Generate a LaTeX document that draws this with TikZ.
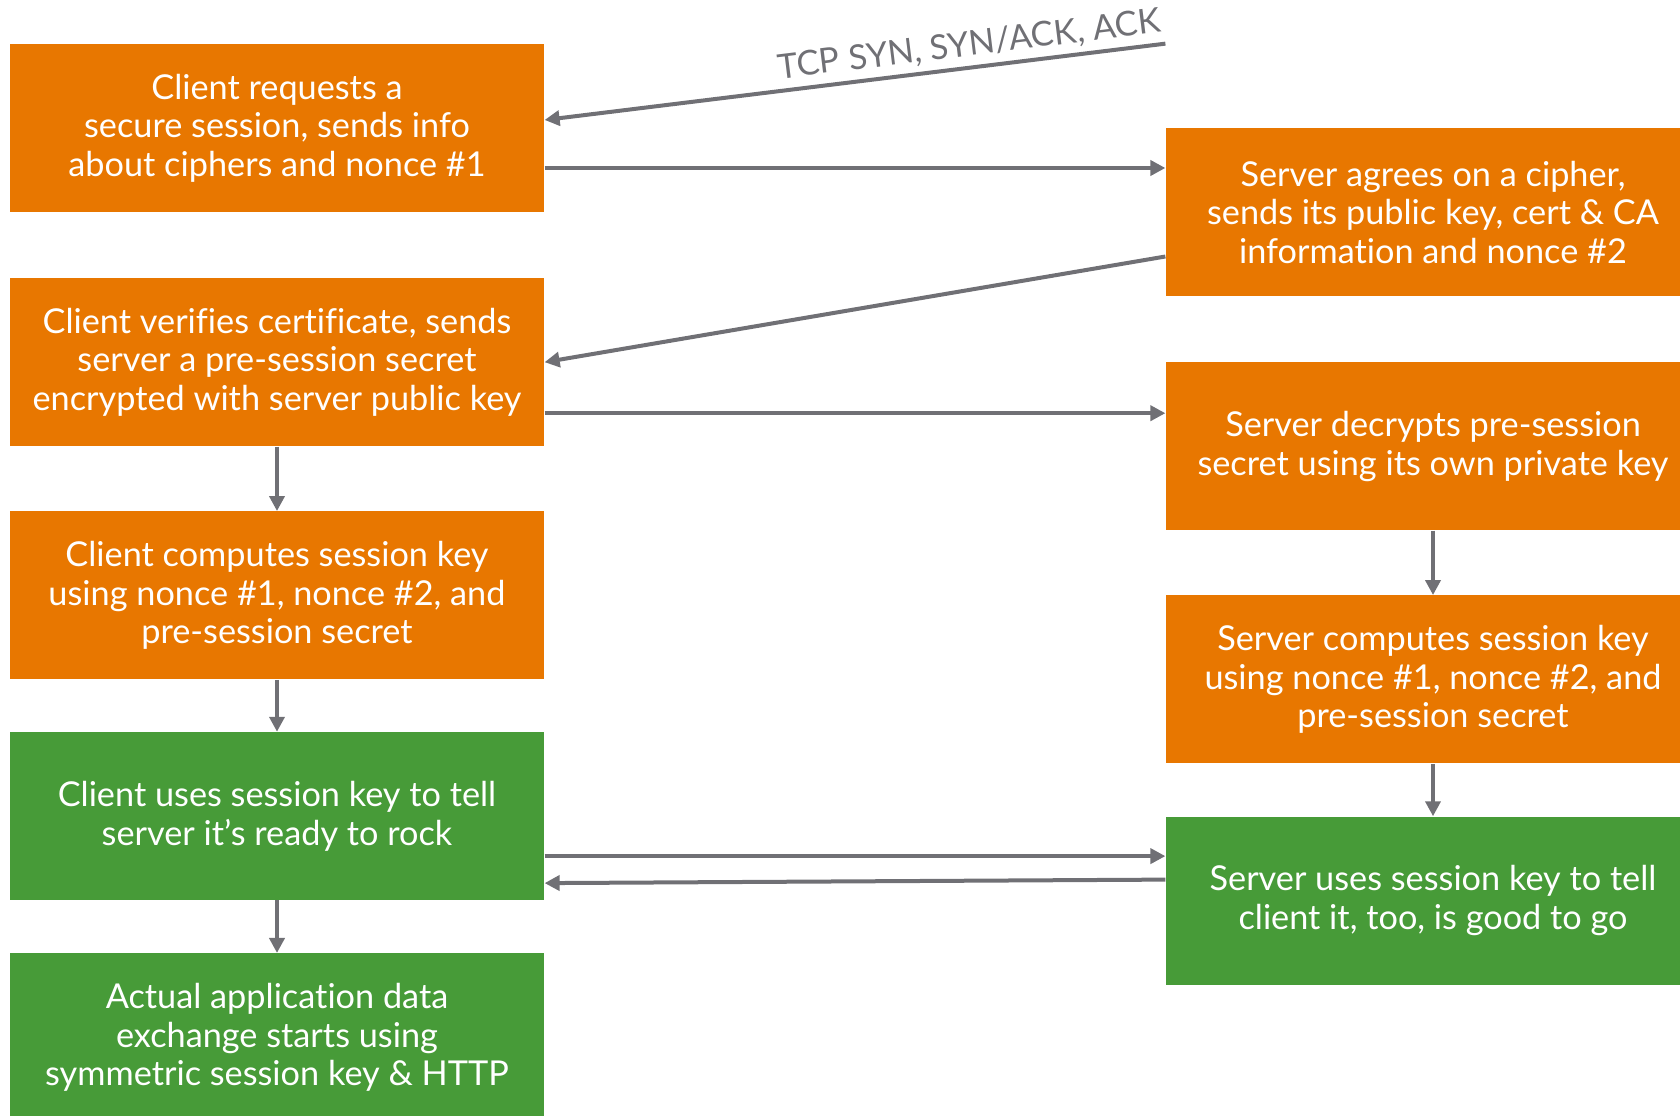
\documentclass[tikz,border=0pt]{standalone}
\usepackage{fontspec}
\setmainfont{Lato}[Ligatures=NoCommon]
\usetikzlibrary{arrows.meta,positioning,calc}
\definecolor{tlsorange}{RGB}{232,119,0}
\definecolor{tlsgreen}{RGB}{71,155,56}
\definecolor{arrowgray}{RGB}{112,112,117}

\begin{document}
\begin{tikzpicture}[node distance=1.3cm and 1.3cm, >={Triangle[length=0.3cm,width=0.3cm]},
  every node/.style={font=\fontsize{19.5}{22}\selectfont},
  stepbox/.style={fill=tlsorange, text=white, minimum width=10.69cm, minimum height=3.36cm, align=center, inner sep=0pt},
  okbox/.style={stepbox, fill=tlsgreen},
  flow/.style={->, draw=arrowgray, line width=0.08cm}]
\useasboundingbox (0,0) rectangle (33.6,-22.32);

% client side
\node[stepbox] (c1) at (5.54,-2.56) {Client requests a\\secure session, sends info\\about ciphers and nonce \#1};
\node[stepbox, below=1.31cm of c1] (c2) {Client verifies certificate, sends\\server a pre-session secret\\encrypted with server public key};
\node[stepbox, below=1.29cm of c2] (c3) {Client computes session key\\using nonce \#1, nonce \#2, and\\pre-session secret};
\node[okbox, below=1.04cm of c3] (c4) {Client uses session key to tell\\server it’s ready to rock};
\node[okbox, below=1.05cm of c4] (c5) {Actual application data\\exchange starts using\\symmetric session key \& HTTP};

% server side
\node[stepbox] (s1) at (28.66,-4.25) {Server agrees on a cipher,\\sends its public key, cert \& CA\\information and nonce \#2};
\node[stepbox, below=1.30cm of s1] (s2) {Server decrypts pre-session\\secret using its own private key};
\node[stepbox, below=1.29cm of s2] (s3) {Server computes session key\\using nonce \#1, nonce \#2, and\\pre-session secret};
\node[okbox, below=1.05cm of s3] (s4) {Server uses session key to tell\\client it, too, is good to go};

% messages
\coordinate (tcp) at (c1.north -| s1.west);
\draw[flow] (tcp) -- node[pos=0, sloped, anchor=south east, text=arrowgray, inner sep=3pt, xshift=3pt] {TCP SYN, SYN/ACK, ACK} ([yshift=0.16cm]c1.east);
\draw[flow] (c1.east) ++(0,-0.8) coordinate (m1) -- (m1 -| s1.west);
\draw[flow] ([yshift=-0.88cm]s1.west) -- (c2.east);
\draw[flow] (c2.east) ++(0,-1.02) coordinate (m2) -- (m2 -| s2.west);
\draw[flow] (c4.east) ++(0,-0.8) coordinate (m3) -- (m3 -| s4.west);
\draw[flow] ([yshift=0.42cm]s4.west) -- ([yshift=-1.34cm]c4.east);

% steps
\draw[flow] (c2) -- (c3);
\draw[flow] (c3) -- (c4);
\draw[flow] (c4) -- (c5);
\draw[flow] (s2) -- (s3);
\draw[flow] (s3) -- (s4);
\end{tikzpicture}
\end{document}
